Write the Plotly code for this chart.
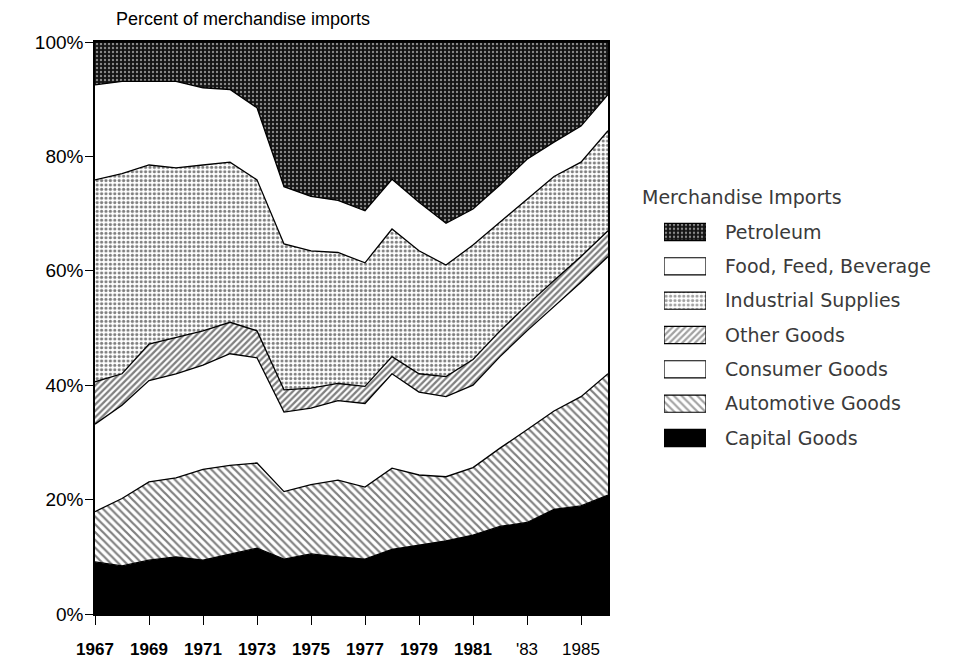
import plotly.graph_objects as go

years = list(range(1967, 1987))

capital_goods = [9.1, 8.4, 9.4, 10.0, 9.4, 10.5, 11.5, 9.6, 10.5, 10.0,
                 9.6, 11.3, 12.0, 12.8, 13.8, 15.3, 16.0, 18.3, 18.9, 20.8]
automotive_goods = [8.8, 11.8, 13.7, 13.8, 15.9, 15.5, 14.9, 11.8, 12.1, 13.4,
                    12.6, 14.2, 12.3, 11.2, 11.8, 13.7, 16.2, 17.2, 19.1, 21.2]
consumer_goods = [15.3, 16.3, 17.7, 18.2, 18.2, 19.5, 18.4, 13.9, 13.4, 13.9,
                  14.6, 16.5, 14.5, 14.0, 14.4, 16.0, 17.3, 18.3, 20.0, 20.5]
other_goods = [7.4, 5.5, 6.4, 6.3, 6.0, 5.5, 4.7, 3.9, 3.5, 3.0,
               3.0, 3.0, 3.2, 3.5, 4.5, 4.5, 4.5, 4.5, 4.5, 4.5]
industrial_supplies = [35.3, 35.0, 31.3, 29.7, 29.0, 28.0, 26.4, 25.5, 24.0, 22.9,
                       21.6, 22.3, 21.5, 19.5, 20.0, 19.0, 18.5, 18.2, 16.5, 17.5]
food_feed_beverage = [16.6, 16.1, 14.6, 15.1, 13.5, 12.7, 12.6, 10.0, 9.5, 9.1,
                      9.1, 8.7, 8.5, 7.3, 6.3, 6.5, 7.0, 6.0, 6.3, 6.3]
petroleum = [7.5, 6.9, 6.9, 6.9, 8.0, 8.3, 11.5, 25.3, 27.0, 27.7,
             29.5, 24.0, 28.0, 31.7, 29.2, 25.0, 20.5, 17.5, 14.7, 9.2]

x_tick_vals = [1967, 1969, 1971, 1973, 1975, 1977, 1979, 1981, 1983, 1985]
x_tick_text = ["<b>1967</b>", "<b>1969</b>", "<b>1971</b>", "<b>1973</b>", "<b>1975</b>",
               "<b>1977</b>", "<b>1979</b>", "<b>1981</b>", "'83", "1985"]
y_tick_vals = [0, 20, 40, 60, 80, 100]
y_tick_text = ["0%", "20%", "40%", "60%", "80%", "100%"]

SANS = "Liberation Sans, Arial, sans-serif"
LEG_FONT = "DejaVu Sans, sans-serif"

# page body has an 8px margin: figure drawn at (8, 8)
W, H, OFF = 952, 650, 8


def fx(px):
    return (px - OFF) / W


def fy(py):
    return (H - (py - OFF)) / H


PAT_AUTO = dict(shape="\\", fgcolor="black", bgcolor="white", size=5.5, solidity=0.4)
PAT_OTHER = dict(shape="/", fgcolor="black", bgcolor="white", size=4.5, solidity=0.5)
PAT_IND = dict(shape=".", fgcolor="black", bgcolor="white", size=4.4, solidity=0.4)
PAT_PET = dict(shape=".", fgcolor="white", bgcolor="#141414", size=4, solidity=0.28)

# (name, values, fill colour, pattern) bottom -> top
series = [
    ("Capital Goods", capital_goods, "black", None),
    ("Automotive Goods", automotive_goods, "white", PAT_AUTO),
    ("Consumer Goods", consumer_goods, "white", None),
    ("Other Goods", other_goods, "white", PAT_OTHER),
    ("Industrial Supplies", industrial_supplies, "white", PAT_IND),
    ("Food, Feed, Beverage", food_feed_beverage, "white", None),
    ("Petroleum", petroleum, "#141414", PAT_PET),
]

fig = go.Figure()
for name, vals, color, pat in series:
    kw = dict(fillcolor=color)
    if pat:
        kw["fillpattern"] = pat
    fig.add_trace(go.Scatter(
        x=years, y=vals, name=name, mode="lines", stackgroup="one",
        line=dict(color="black", width=1.3), showlegend=False,
        hoverinfo="x+y+name", **kw,
    ))

# legend drawn as a small bar chart of swatches (top -> bottom order)
legend_names = [s[0] for s in series][::-1]
legend_colors = [s[2] for s in series][::-1]
legend_pats = [s[3] for s in series][::-1]
swatch_len = [1] * len(legend_names)
fig.add_trace(go.Bar(
    x=swatch_len, y=legend_names, orientation="h", width=0.5,
    xaxis="x2", yaxis="y2", showlegend=False, hoverinfo="skip",
    marker=dict(
        color=legend_colors,
        line=dict(color="black", width=1.2),
        pattern=dict(
            shape=[p["shape"] if p else "" for p in legend_pats],
            fgcolor=[p["fgcolor"] if p else "black" for p in legend_pats],
            bgcolor=[p["bgcolor"] if p else c for p, c in zip(legend_pats, legend_colors)],
            size=[p["size"] if p else 6 for p in legend_pats],
            solidity=[p["solidity"] if p else 0.3 for p in legend_pats],
        ),
    ),
))

fig.update_layout(
    width=W, height=H,
    margin=dict(l=0, r=0, t=0, b=0),
    paper_bgcolor="white", plot_bgcolor="white",
    font=dict(family=SANS, color="black"),
    showlegend=False,
    xaxis=dict(
        domain=[fx(95), fx(608)], anchor="y",
        range=[1967, 1986], tickvals=x_tick_vals, ticktext=x_tick_text,
        ticks="outside", ticklen=9, tickwidth=1.2, tickcolor="black",
        showline=True, linecolor="black", linewidth=1.5, mirror=True,
        showgrid=False, zeroline=False, automargin=False,
        tickfont=dict(size=17, color="black", family=SANS),
        ticklabelstandoff=10,
    ),
    yaxis=dict(
        domain=[fy(614), fy(42)], anchor="x",
        range=[0, 100], tickvals=y_tick_vals, ticktext=y_tick_text,
        ticks="outside", ticklen=8, tickwidth=1.2, tickcolor="black",
        showline=True, linecolor="black", linewidth=1.5, mirror=True,
        showgrid=False, zeroline=False, automargin=False,
        tickfont=dict(size=19, color="black", family=SANS),
        ticklabelstandoff=-2,
    ),
    xaxis2=dict(
        domain=[fx(664), fx(706)], anchor="y2", range=[0, 1],
        visible=False, fixedrange=True,
    ),
    yaxis2=dict(
        domain=[fy(455.2), fy(214.8)], anchor="x2",
        type="category", categoryorder="array", categoryarray=legend_names,
        range=[len(legend_names) - 0.5, -0.5],
        side="right", showline=False, showgrid=False, zeroline=False,
        ticks="", ticklabelstandoff=18, automargin=False, fixedrange=True,
        tickfont=dict(size=19, color="#3a3a3a", family=LEG_FONT),
    ),
    annotations=[
        dict(text="Percent of merchandise imports", xref="paper", yref="paper",
             x=fx(114), y=fy(19), xanchor="left", yanchor="middle",
             showarrow=False, font=dict(size=18, color="black", family=SANS)),
        dict(text="Merchandise Imports", xref="paper", yref="paper",
             x=fx(640), y=fy(197), xanchor="left", yanchor="middle",
             showarrow=False, font=dict(size=19, color="#3a3a3a", family=LEG_FONT)),
    ],
)

fig.write_html("out.html")
